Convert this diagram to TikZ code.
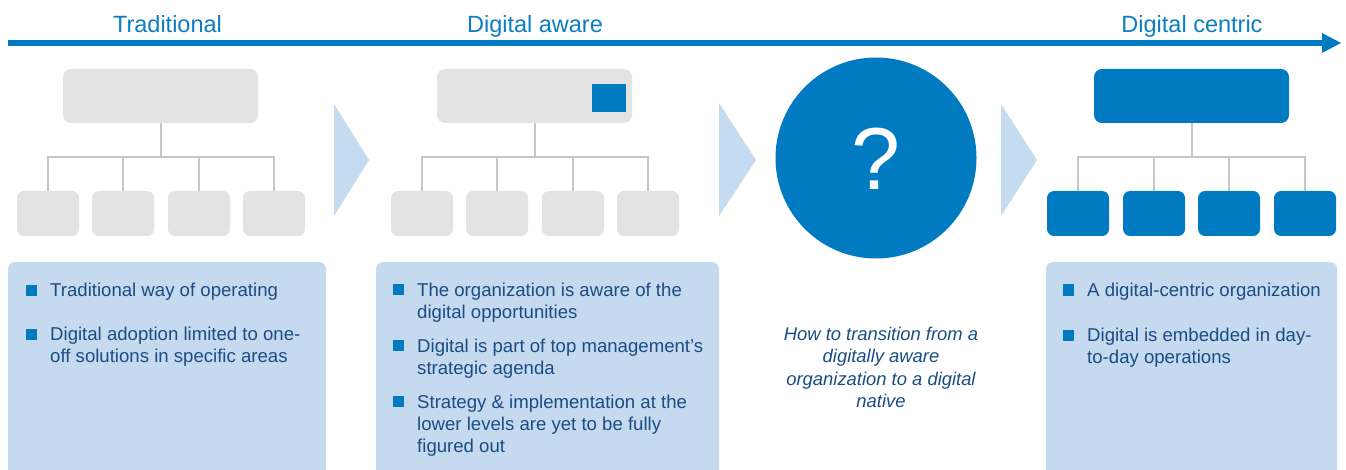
\documentclass[tikz,border=0pt]{standalone}
\usepackage{fontspec}
\setmainfont{Liberation Sans}
\definecolor{hblue}{HTML}{007BC2}
\definecolor{htext}{HTML}{0B7DC2}
\definecolor{lblue}{HTML}{C5DAEE}
\definecolor{chev}{HTML}{C5DBEF}
\definecolor{gbox}{HTML}{E4E3E4}
\definecolor{gline}{HTML}{C6C6C6}
\definecolor{dtext}{HTML}{1A4C86}
\begin{document}
\begin{tikzpicture}[x=1pt,y=-1pt,
  header/.style={text=htext,font=\fontsize{23.5}{28}\selectfont,inner sep=0pt,anchor=base},
  topbox/.style={rounded corners=8pt,minimum width=195pt,minimum height=54pt,inner sep=0pt},
  childbox/.style={rounded corners=7pt,minimum width=62pt,minimum height=45pt,inner sep=0pt},
  conn/.style={draw=gline,line width=2pt},
  chevron/.style={fill=chev},
  panel/.style={fill=lblue,rounded corners=7pt},
  bul/.style={fill=hblue,minimum size=11pt,inner sep=0pt},
  line/.style={text=dtext,font=\fontsize{18.6}{22}\selectfont,inner sep=0pt,anchor=base west},
  itline/.style={text=dtext,font=\fontsize{18.4}{22}\selectfont\itshape,inner sep=0pt,anchor=base}]
\useasboundingbox (0,0) rectangle (1346,470);
\clip (0,0) rectangle (1346,470);

% timeline arrow
\coordinate (tl0) at (8,43);
\coordinate (tl1) at (1322,43);
\coordinate (tlt) at (1341,43);
\draw[hblue,line width=6pt] (tl0) -- (tl1);
\fill[hblue] (1322,33) -- (tlt) -- (1322,53) -- cycle;
\node[header] (h1) at (167.5,33) {Traditional};
\node[header] (h2) at (535,33) {Digital aware};
\node[header] (h3) at (1192,33) {Digital centric};

% column 1 tree
\node[topbox,fill=gbox] (t1) at (160.5,96) {};
\foreach \i/\x in {1/48,2/123,3/199,4/274}
  \node[childbox,fill=gbox] (c1\i) at (\x,213.5) {};
\coordinate (j1) at (160.5,157);
\draw[conn] (t1.south) -- (j1);
\draw[conn] (c11.north) |- (c14.north |- j1) -- (c14.north);
\draw[conn] (c12.north) -- (c12.north |- j1);
\draw[conn] (c13.north) -- (c13.north |- j1);

% column 2 tree
\node[topbox,fill=gbox] (t2) at (534.5,96) {};
\node[fill=hblue,minimum width=34pt,minimum height=28pt,inner sep=0pt] (sq) at (609,98) {};
\foreach \i/\x in {1/422,2/497,3/573,4/648}
  \node[childbox,fill=gbox] (c2\i) at (\x,213.5) {};
\coordinate (j2) at (534.5,157);
\draw[conn] (t2.south) -- (j2);
\draw[conn] (c21.north) |- (c24.north |- j2) -- (c24.north);
\draw[conn] (c22.north) -- (c22.north |- j2);
\draw[conn] (c23.north) -- (c23.north |- j2);

% column 4 tree
\node[topbox,fill=hblue] (t4) at (1191.5,96) {};
\foreach \i/\x in {1/1078,2/1154,3/1229,4/1305}
  \node[childbox,fill=hblue] (c4\i) at (\x,213.5) {};
\coordinate (j4) at (1191.5,157);
\draw[conn] (t4.south) -- (j4);
\draw[conn] (c41.north) |- (c44.north |- j4) -- (c44.north);
\draw[conn] (c42.north) -- (c42.north |- j4);
\draw[conn] (c43.north) -- (c43.north |- j4);

% chevrons
\fill[chevron] (334,104) -- (369,160) -- (334,216) -- cycle;
\fill[chevron] (719,103) -- (756,160) -- (719,216) -- cycle;
\fill[chevron] (1001,104) -- (1037,160) -- (1001,216) -- cycle;

% circle
\node[circle,fill=hblue,minimum size=201pt,inner sep=0pt] (circ) at (876,158) {};
\node[text=white,font=\fontsize{88}{90}\selectfont,inner sep=0pt] (qm) at (876,159) {?};

% panels
\fill[panel] (8,262) rectangle (326,490);
\fill[panel] (376,262) rectangle (719,490);
\fill[panel] (1046,262) rectangle (1337,490);

% panel 1 text
\node[bul] (b11) at (31.5,290.5) {};
\node[line] (l11) at (50,296) {Traditional way of operating};
\node[bul] (b12) at (31.5,334.5) {};
\node[line] (l12) at (50,340) {Digital adoption limited to one-};
\node[line] (l13) at (50,362) {off solutions in specific areas};

% panel 2 text
\node[bul] (b21) at (398.5,289.5) {};
\node[line] (l21) at (417,296) {The organization is aware of the};
\node[line] (l22) at (417,318) {digital opportunities};
\node[bul] (b22) at (398.5,345.5) {};
\node[line] (l23) at (417,352) {Digital is part of top management’s};
\node[line] (l24) at (417,374) {strategic agenda};
\node[bul] (b23) at (398.5,401.5) {};
\node[line] (l25) at (417,408) {Strategy \& implementation at the};
\node[line] (l26) at (417,430) {lower levels are yet to be fully};
\node[line] (l27) at (417,452) {figured out};

% middle italic text
\node[itline] (m1) at (881,340) {How to transition from a};
\node[itline] (m2) at (881,362.5) {digitally aware};
\node[itline] (m3) at (881,385) {organization to a digital};
\node[itline] (m4) at (881,407) {native};

% panel 4 text
\node[bul] (b41) at (1068.5,290) {};
\node[line] (l41) at (1087,296) {A digital-centric organization};
\node[bul] (b42) at (1068.5,335.5) {};
\node[line] (l42) at (1087,341) {Digital is embedded in day-};
\node[line] (l43) at (1087,363) {to-day operations};
\end{tikzpicture}
\end{document}
